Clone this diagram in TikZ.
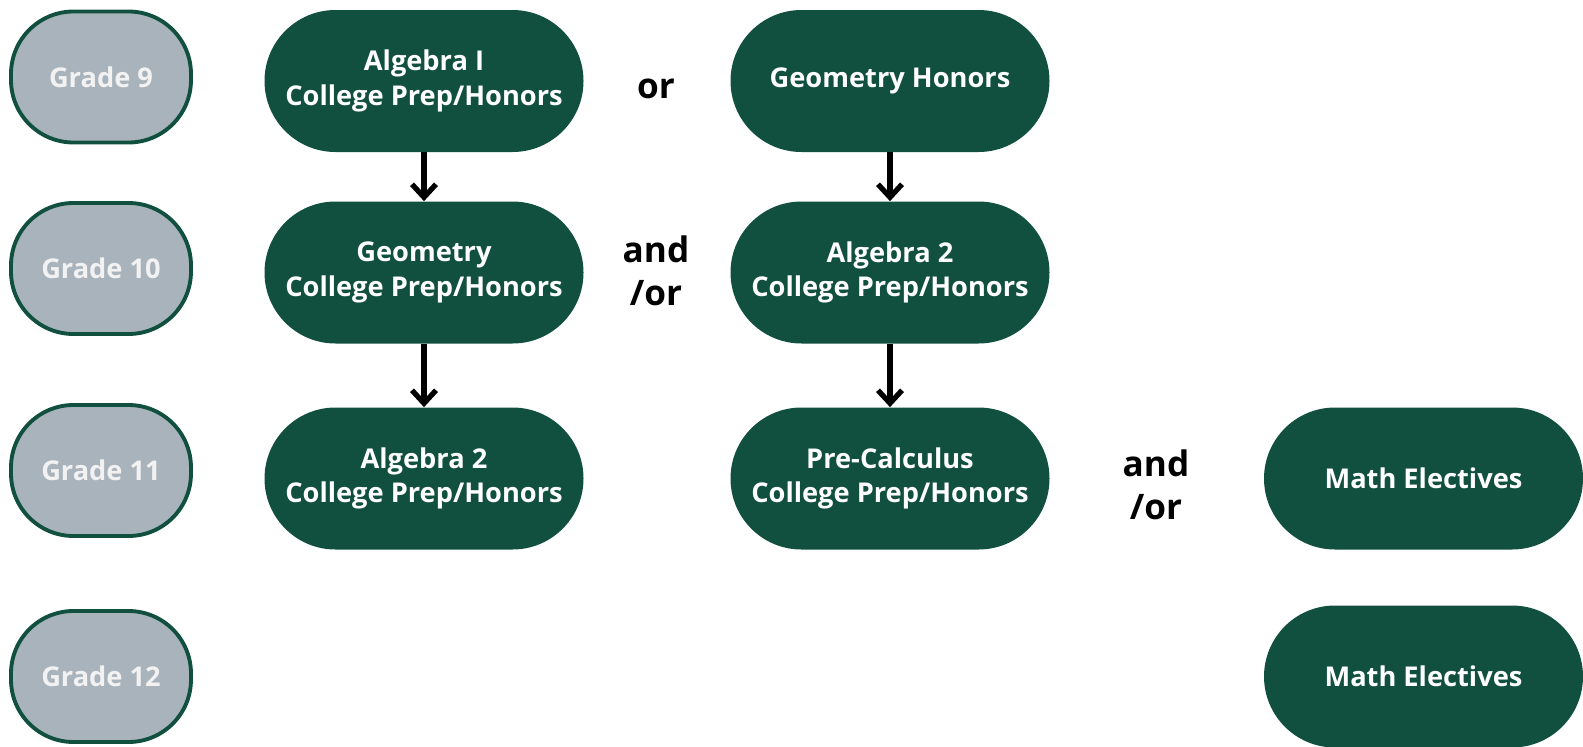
\documentclass[tikz,border=0pt]{standalone}
\usepackage{fontspec}
\setmainfont{Open Sans}
\usepackage{xcolor}
\usetikzlibrary{positioning}
\usetikzlibrary{arrows.meta}

\definecolor{pinegreen}{HTML}{11503F}
\definecolor{slategray}{HTML}{A9B3BC}

\tikzset{
  grade/.style={draw=pinegreen, line width=2.2pt, fill=slategray, text=white!95!black,
    rounded corners=1.25cm, minimum width=3.6cm, minimum height=2.62cm,
    font=\bfseries\fontsize{15.5}{19}\selectfont},
  course/.style={fill=pinegreen, text=white, rounded corners=1.42cm,
    minimum width=6.38cm, minimum height=2.84cm, align=center,
    font=\bfseries\fontsize{15.5}{19.5}\selectfont},
  joiner/.style={align=center, font=\bfseries\fontsize{20}{24.5}\selectfont},
  flow/.style={line width=3pt, -{Straight Barb[length=2.6mm,width=4.8mm,line width=3pt]}}
}

\begin{document}
\begin{tikzpicture}[node distance=3.9cm,on grid]
   \useasboundingbox (0,0) rectangle (31.66,-14.92);
   % grades
   \node[grade] (g9) at (2.02,-1.54) {Grade 9};
   \node[grade] (g10) [below=3.83cm of g9] {Grade 10};
   \node[grade] (g11) [below=4.04cm of g10] {Grade 11};
   \node[grade] (g12) [below=4.12cm of g11] {Grade 12};
   % first column
   \node[course] (alg1) at (8.48,-1.62) {Algebra I\\College Prep/Honors};
   \node[course] (geo) [below=3.83cm of alg1] {Geometry\\College Prep/Honors};
   \node[course] (alg2) [below=4.12cm of geo] {Algebra 2\\College Prep/Honors};
   % second column
   \node[course] (geoh) at (17.8,-1.62) {Geometry Honors};
   \node[course] (alg2b) [below=3.83cm of geoh] {Algebra 2\\College Prep/Honors};
   \node[course] (precalc) [below=4.12cm of alg2b] {Pre-Calculus\\College Prep/Honors};
   % electives
   \node[course] (elec11) at (28.47,-9.57) {Math Electives};
   \node[course] (elec12) [below=3.96cm of elec11] {Math Electives};
   % words between
   \node[joiner] (or1) at (13.12,-1.78) {or};
   \node[joiner] (andor1) at (13.12,-5.42) {and\\/or};
   \node[joiner] (andor2) at (23.12,-9.7) {and\\/or};
   \draw[flow] (alg1) -- (geo);
   \draw[flow] (geo) -- (alg2);
   \draw[flow] (geoh) -- (alg2b);
   \draw[flow] (alg2b) -- (precalc);
\end{tikzpicture}
\end{document}
